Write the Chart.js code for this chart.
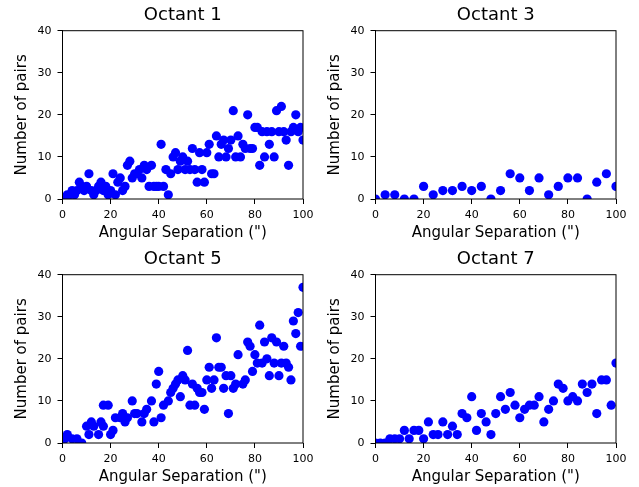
<!DOCTYPE html>
<html>
<head>
<meta charset="utf-8">
<script src="https://cdn.jsdelivr.net/npm/chart.js@4/dist/chart.umd.min.js"></script>
<style>
  body { margin: 0; background: #fff; }
  #wrap { position: relative; width: 639px; height: 487px; }
  canvas { position: absolute; }
</style>
</head>
<body>
<div id="wrap">
  <canvas id="c1" width="320" height="243" style="left:0px;top:0px"></canvas>
  <canvas id="c3" width="320" height="243" style="left:313px;top:0px"></canvas>
  <canvas id="c5" width="320" height="243" style="left:0px;top:244px"></canvas>
  <canvas id="c7" width="320" height="243" style="left:313px;top:244px"></canvas>
</div>
<script>
// values (x = angular separation, y = number of pairs)
var oct1X = [0,1,2,3,4,5,6,7,8,9,10,11,12,13,14,15,16,17,18,19,20,21,22,23,24,25,26,27,28,29,30,31,32,33,34,35,36,37,38,39,40,41,42,43,44,45,46,47,48,49,50,51,52,53,54,55,56,57,58,59,60,61,62,63,64,65,66,67,68,69,70,71,72,73,74,75,76,77,78,79,80,81,82,83,84,85,86,87,88,89,90,91,92,93,94,95,96,97,98,99,100];
var oct1Y = [0,0,1,1,2,1,2,4,3,2,3,6,2,1,2,3,4,2,3,1,2,6,1,4,5,2,3,8,9,5,6,6,7,5,8,7,3,8,3,3,3,13,3,7,1,6,10,11,7,9,10,7,9,7,12,7,4,11,7,4,11,13,6,6,15,10,13,14,10,12,14,21,10,15,10,13,12,20,12,12,17,17,8,16,10,16,13,16,10,21,16,22,16,14,8,16,17,20,16,17,14];

var oct3X = [0,4,8,12,16,20,24,28,32,36,40,44,48,52,56,60,64,68,72,76,80,84,88,92,96,100];
var oct3Y = [0,1,1,0,0,3,1,2,2,3,2,3,0,2,6,5,2,5,1,3,5,5,0,4,6,3];

var oct5X = [0,1,2,4,6,8,10,11,12,13,15,16,17,17,19,20,21,22,24,25,26,27,29,30,31,33,34,35,37,38,39,40,41,42,44,45,46,47,48,49,50,51,52,53,54,55,56,57,58,59,60,61,62,63,64,65,66,67,68,69,70,71,72,73,75,76,77,78,79,80,81,82,83,84,85,86,87,88,89,90,91,92,93,94,95,96,97,98,99,100];
var oct5Y = [0,1,2,1,1,0,4,2,5,4,2,5,4,9,9,2,3,6,6,7,5,6,10,7,7,5,7,8,10,5,14,17,6,9,10,12,13,14,15,11,16,15,22,9,14,9,13,12,12,8,15,18,13,15,25,18,18,13,16,7,16,13,14,21,14,15,24,23,17,21,19,28,19,24,20,16,25,19,24,16,19,23,19,18,15,29,26,31,23,37];

var oct7X = [0,2,4,6,8,10,12,14,16,18,20,22,24,26,28,30,32,34,36,38,40,42,44,46,48,50,52,54,56,58,60,62,64,66,68,70,72,74,76,78,80,82,84,86,88,90,92,94,96,98,100];
var oct7Y = [0,0,0,1,1,1,3,1,3,3,1,5,2,2,5,2,4,2,7,6,11,3,7,5,2,7,11,8,12,9,6,8,9,9,11,5,8,10,14,13,10,11,10,14,12,14,7,15,15,9,19];

var xTicks = [0, 20, 40, 60, 80, 100];
var yTicks = [0, 10, 20, 30, 40];

var FONT = "'DejaVu Sans', sans-serif";

// full box round the plot area, like matplotlib spines
var frame = {
  id: 'frame',
  afterDatasetsDraw: function(chart) {
    var a = chart.chartArea, ctx = chart.ctx;
    ctx.save();
    ctx.strokeStyle = '#000';
    ctx.lineWidth = 1;
    ctx.strokeRect(a.left, a.top, a.right - a.left, a.bottom - a.top);
    ctx.restore();
  }
};

function makePanel(id, title, xs, ys) {
  var pts = xs.map(function(x, i) { return {x: x, y: ys[i]}; });
  new Chart(document.getElementById(id), {
    type: 'scatter',
    data: {
      datasets: [{
        data: pts,
        backgroundColor: '#0000ff',
        borderWidth: 0,
        pointRadius: 4.6,
        pointBorderWidth: 0,
        clip: 0
      }]
    },
    plugins: [frame],
    options: {
      responsive: false,
      animation: false,
      events: [],
      layout: {padding: {left: 0, right: 17, top: 0, bottom: 0}},
      plugins: {
        legend: {display: false},
        tooltip: {enabled: false},
        title: {
          display: true,
          text: title,
          fullSize: false,
          color: '#000',
          font: {family: FONT, size: 18, weight: 'normal', lineHeight: 1.2},
          padding: {top: 4.5, bottom: 4.6}
        }
      },
      scales: {
        x: {
          type: 'linear',
          min: 0, max: 100,
          afterBuildTicks: function(s) { s.ticks = xTicks.map(function(v) { return {value: v}; }); },
          afterFit: function(s) { s.height = 44; },
          border: {display: false},
          grid: {drawOnChartArea: false, drawTicks: true, tickLength: 5, color: '#000'},
          ticks: {color: '#000', padding: 4.4, maxRotation: 0, font: {family: FONT, size: 11}},
          title: {display: true, text: 'Angular Separation (")', color: '#000',
                  font: {family: FONT, size: 15}, padding: {top: 0, bottom: 1}}
        },
        y: {
          type: 'linear',
          min: 0, max: 40,
          afterBuildTicks: function(s) { s.ticks = yTicks.map(function(v) { return {value: v}; }); },
          afterFit: function(s) { s.width = 62.5; },
          border: {display: false},
          grid: {drawOnChartArea: false, drawTicks: true, tickLength: 5, color: '#000'},
          ticks: {color: '#000', padding: 6, font: {family: FONT, size: 11}},
          title: {display: true, text: 'Number of pairs', color: '#000',
                  font: {family: FONT, size: 15}, padding: {top: 13, bottom: 0}}
        }
      }
    }
  });
}

makePanel('c1', 'Octant 1', oct1X, oct1Y);
makePanel('c3', 'Octant 3', oct3X, oct3Y);
makePanel('c5', 'Octant 5', oct5X, oct5Y);
makePanel('c7', 'Octant 7', oct7X, oct7Y);
</script>
</body>
</html>
